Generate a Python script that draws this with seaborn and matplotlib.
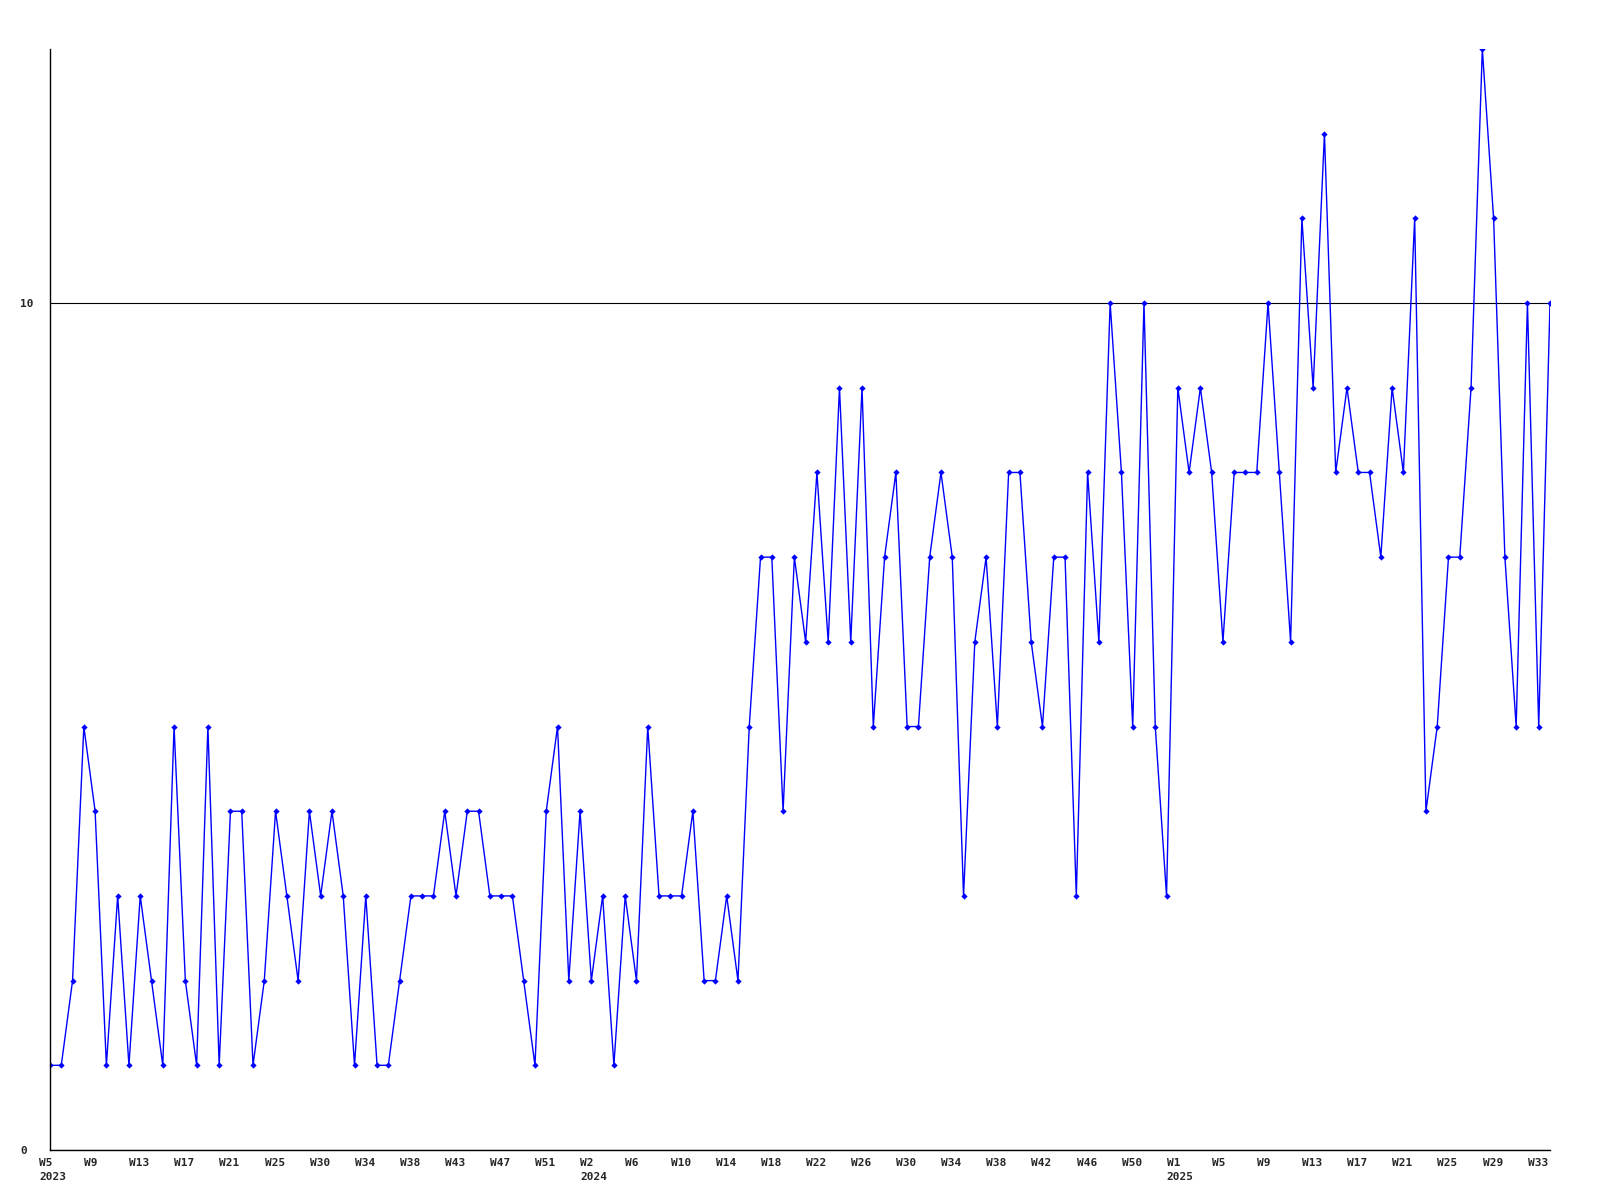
import numpy as np
import pandas as pd
import matplotlib
matplotlib.use('Agg')
import matplotlib.pyplot as plt
import matplotlib.transforms as mtransforms
import seaborn as sns

# weekly values, 2023 W5 .. 2025 W34
vals_2023 = [1, 1, 2, 5, 4, 1, 3, 1, 3, 2, 1, 5, 2, 1, 5, 1, 4, 4, 1, 2, 4, 3, 2, 4,
             3, 4, 3, 1, 3, 1, 1, 2, 3, 3, 3, 4, 3, 4, 4, 3, 3, 3, 2, 1, 4, 5, 2, 4]
vals_2024 = [2, 3, 1, 3, 2, 5, 3, 3, 3, 4, 2, 2, 3, 2, 5, 7, 7, 4, 7, 6, 8, 6, 9, 6,
             9, 5, 7, 8, 5, 5, 7, 8, 7, 3, 6, 7, 5, 8, 8, 6, 5, 7, 7, 3, 8, 6, 10, 8,
             5, 10, 5, 3]
vals_2025 = [9, 8, 9, 8, 6, 8, 8, 8, 10, 8, 6, 11, 9, 12, 8, 9, 8, 8, 7, 9, 8, 11, 4,
             5, 7, 7, 9, 13, 11, 7, 5, 10, 5, 10]

# x tick labels (one every 4 weeks), year shown under the first label of each year
week_labels = ['W5', 'W9', 'W13', 'W17', 'W21', 'W25', 'W30', 'W34', 'W38', 'W43',
               'W47', 'W51', 'W2', 'W6', 'W10', 'W14', 'W18', 'W22', 'W26', 'W30',
               'W34', 'W38', 'W42', 'W46', 'W50', 'W1', 'W5', 'W9', 'W13', 'W17',
               'W21', 'W25', 'W29', 'W33']
year_labels = {0: '2023', 12: '2024', 25: '2025'}

values = vals_2023 + vals_2024 + vals_2025
df = pd.DataFrame({'week': np.arange(len(values)), 'value': values})

sns.set_style('white')
plt.rcParams['font.family'] = ['DejaVu Sans Mono']

fig = plt.figure(figsize=(16, 12), dpi=100)
ax = fig.add_axes([0.03125, 0.04167, 0.9375, 0.9175])

sns.lineplot(data=df, x='week', y='value', color='#0000ff', lw=1,
             marker='D', markersize=3.2, markeredgewidth=0, ax=ax)

ax.set_xlim(0, len(values) - 1)
ax.set_ylim(0, max(values))
ax.set_xlabel('')
ax.set_ylabel('')

for side in ['top', 'right']:
    ax.spines[side].set_visible(False)
for side in ['left', 'bottom']:
    ax.spines[side].set_color('black')
    ax.spines[side].set_linewidth(1)

# y axis: only 0 and 10, with a line at 10
ax.set_yticks([0, 10])
ax.set_yticklabels(['0', '10'], fontsize=8, fontweight='bold')
ax.tick_params(axis='y', length=0, pad=21.6)
for lab in ax.get_yticklabels():
    lab.set_horizontalalignment('left')
ax.grid(axis='y', color='black', lw=0.8)
ax.grid(axis='x', visible=False)

# x axis labels
tick_pos = np.arange(len(week_labels)) * 4
labels = [w + ('\n' + year_labels[i] if i in year_labels else '')
          for i, w in enumerate(week_labels)]
ax.set_xticks(tick_pos)
ax.set_xticklabels(labels, fontsize=8, fontweight='bold', linespacing=1.4)
ax.tick_params(axis='x', length=0, pad=6)
shift = mtransforms.ScaledTranslation(-11 / 100, 0, fig.dpi_scale_trans)
for lab in ax.get_xticklabels():
    lab.set_horizontalalignment('left')
    lab.set_multialignment('left')
    lab.set_transform(lab.get_transform() + shift)

fig.savefig('out.png', dpi=100)
